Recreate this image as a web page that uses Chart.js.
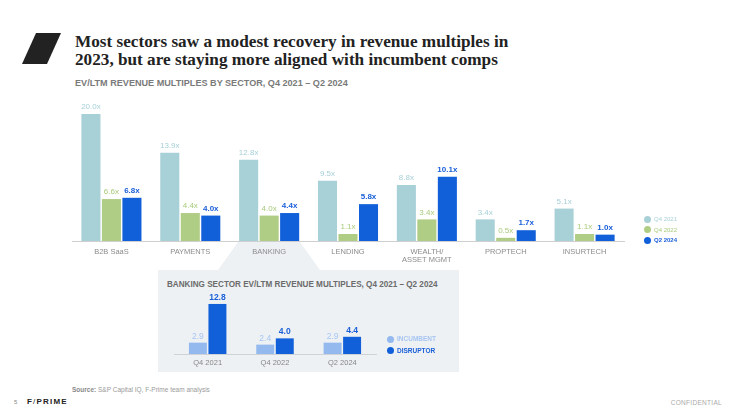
<!DOCTYPE html>
<html>
<head>
<meta charset="utf-8">
<script src="https://cdn.jsdelivr.net/npm/chart.js@4"></script>
<style>
  html, body { margin:0; padding:0; background:#fff; }
  body { width:740px; height:415px; position:relative; overflow:hidden; font-family:"Liberation Sans", Arial, sans-serif; }
  .abs { position:absolute; white-space:nowrap; }
  #title { left:75px; top:33px; font-family:"Liberation Serif", serif; font-weight:bold; font-size:17.2px; line-height:18px; color:#222; }
  #subtitle { left:75px; top:78px; font-size:9.1px; line-height:10px; font-weight:bold; color:#7a7a7a; }
  #insetTitle { left:167px; top:280px; font-size:8.15px; line-height:10px; font-weight:bold; color:#6b6b6b; }
  .leg { font-size:6px; line-height:8px; }
  .dot { position:absolute; width:7px; height:7px; border-radius:50%; }
  #mainWrap { position:absolute; left:0; top:95px; width:740px; height:175px; }
  #insetWrap { position:absolute; left:158px; top:288px; width:301px; height:84px; }
  #src { left:72px; top:385px; font-size:6.5px; line-height:10px; color:#9a9a9a; }
  #src b { color:#8a8a8a; }
  #pg { left:14px; top:398px; font-size:6px; line-height:8px; color:#888; }
  #logo { left:27px; top:397px; font-size:8px; line-height:10px; font-weight:bold; color:#222; letter-spacing:1.2px; }
  #conf { right:18px; top:398px; font-size:6.5px; line-height:10px; color:#aaa; letter-spacing:0.3px; }
</style>
</head>
<body>
<svg class="abs" style="left:0;top:0" width="740" height="415">
  <polygon points="36,33 61,33 47,64 22,64" fill="#222"/>
  <polygon points="238,242 300,242 320,270 218,270" fill="#eef1f4"/>
  <rect x="158" y="270" width="301" height="102" fill="#eef1f4"/>
</svg>
<div id="title" class="abs">Most sectors saw a modest recovery in revenue multiples in<br>2023, but are staying more aligned with incumbent comps</div>
<div id="subtitle" class="abs">EV/LTM REVENUE MULTIPLES BY SECTOR, Q4 2021 – Q2 2024</div>
<div id="mainWrap"><canvas id="main"></canvas></div>
<div id="insetTitle" class="abs">BANKING SECTOR EV/LTM REVENUE MULTIPLES, Q4 2021 – Q2 2024</div>
<div id="insetWrap"><canvas id="inset"></canvas></div>
<div id="src" class="abs"><b>Source:</b> S&amp;P Capital IQ, F-Prime team analysis</div>
<div id="pg" class="abs">5</div>
<div id="logo" class="abs">F<span style="font-weight:normal">/</span>PRIME</div>
<div id="conf" class="abs">CONFIDENTIAL</div>
<script>
// ---- data ----
const sectors = ['B2B SaaS', 'PAYMENTS', 'BANKING', 'LENDING', ['WEALTH/', 'ASSET MGMT'], 'PROPTECH', 'INSURTECH'];
const seriesNames = ['Q4 2021', 'Q4 2022', 'Q2 2024'];
const q4_2021 = [20.0, 13.9, 12.8, 9.5, 8.8, 3.4, 5.1];
const q4_2022 = [6.6, 4.4, 4.0, 1.1, 3.4, 0.5, 1.1];
const q2_2024 = [6.8, 4.0, 4.4, 5.8, 10.1, 1.7, 1.0];

const bankingPeriods = ['Q4 2021', 'Q4 2022', 'Q2 2024'];
const bankingNames = ['INCUMBENT', 'DISRUPTOR'];
const incumbent = [2.9, 2.4, 2.9];
const disruptor = [12.8, 4.0, 4.4];

// ---- styles ----
const C_TEAL = '#a8d0d7', C_GREEN = '#b0cd85', C_BLUE = '#1160d9', C_PERI = '#93b9ef';
const T_TEAL = '#a6d0d8', T_GREEN = '#a8cb7b', T_BLUE = '#1a5fd8', T_PERI = '#a7c5f2';
const SANS = '"Liberation Sans", Arial, sans-serif';

const valueLabels = {
  id: 'valueLabels',
  afterDatasetsDraw(chart, args, opts) {
    const ctx = chart.ctx;
    chart.data.datasets.forEach((ds, i) => {
      const meta = chart.getDatasetMeta(i);
      ctx.save();
      ctx.fillStyle = ds.labelColor;
      ctx.font = (ds.labelBold ? 'bold ' : '') + opts.size + 'px ' + SANS;
      ctx.textAlign = 'center';
      ctx.textBaseline = 'bottom';
      meta.data.forEach((el, j) => {
        const v = ds.data[j];
        ctx.fillText(v.toFixed(1) + (opts.suffix || ''), el.x, el.y - opts.gap);
      });
      ctx.restore();
    });
  }
};

new Chart(document.getElementById('main'), {
  type: 'bar',
  data: {
    labels: sectors,
    datasets: [
      { label: seriesNames[0], data: q4_2021, backgroundColor: C_TEAL, labelColor: T_TEAL, labelBold: false },
      { label: seriesNames[1], data: q4_2022, backgroundColor: C_GREEN, labelColor: T_GREEN, labelBold: false },
      { label: seriesNames[2], data: q2_2024, backgroundColor: C_BLUE, labelColor: T_BLUE, labelBold: true }
    ]
  },
  options: {
    responsive: true, maintainAspectRatio: false, animation: false, devicePixelRatio: 1,
    categoryPercentage: 0.78, barPercentage: 0.93,
    layout: { padding: { left: 72, right: 116, top: 10, bottom: 0 } },
    plugins: { legend: { display: false }, tooltip: { enabled: false },
      valueLabels: { size: 8, gap: 3, suffix: 'x' } },
    scales: {
      y: { display: false, min: 0, max: 21.4 },
      x: {
        grid: { display: true, drawOnChartArea: false, drawTicks: false },
        border: { display: true, color: '#cfcfcf', width: 1 },
        ticks: { color: '#8c8c8c', font: { family: SANS, size: 7.5, lineHeight: 1.1 }, padding: 7, maxRotation: 0, autoSkip: false },
        afterFit: s => { s.height = 29; }
      }
    }
  },
  plugins: [valueLabels]
});

new Chart(document.getElementById('inset'), {
  type: 'bar',
  data: {
    labels: bankingPeriods,
    datasets: [
      { label: bankingNames[0], data: incumbent, backgroundColor: C_PERI, labelColor: T_PERI, labelBold: false },
      { label: bankingNames[1], data: disruptor, backgroundColor: C_BLUE, labelColor: T_BLUE, labelBold: true }
    ]
  },
  options: {
    responsive: true, maintainAspectRatio: false, animation: false, devicePixelRatio: 1,
    categoryPercentage: 0.58, barPercentage: 0.92,
    layout: { padding: { left: 16, right: 83, top: 14, bottom: 0 } },
    plugins: { legend: { display: false }, tooltip: { enabled: false },
      valueLabels: { size: 8.5, gap: 2, suffix: '' } },
    scales: {
      y: { display: false, min: 0, max: 13.3 },
      x: {
        grid: { display: true, drawOnChartArea: false, drawTicks: false },
        border: { display: true, color: '#cfd3d8', width: 1 },
        ticks: { color: '#858585', font: { family: SANS, size: 7.5 }, padding: 4, maxRotation: 0 },
        afterFit: s => { s.height = 18; }
      }
    }
  },
  plugins: [valueLabels]
});

// ---- legends (HTML) ----
function legendItem(x, yc, color, textColor, text, bold, size) {
  const d = document.createElement('div');
  d.className = 'dot';
  d.style.left = (x - 3.5) + 'px'; d.style.top = (yc - 3.5) + 'px'; d.style.background = color;
  document.body.appendChild(d);
  const t = document.createElement('div');
  t.className = 'abs leg';
  t.style.left = (x + 7) + 'px'; t.style.top = (yc - 4) + 'px';
  t.style.color = textColor; t.style.fontWeight = bold ? 'bold' : 'normal';
  t.style.fontSize = size + 'px';
  t.textContent = text;
  document.body.appendChild(t);
}
legendItem(647, 219, C_TEAL, T_TEAL, seriesNames[0], false, 6);
legendItem(647, 229.5, C_GREEN, T_GREEN, seriesNames[1], false, 6);
legendItem(647, 240, C_BLUE, T_BLUE, seriesNames[2], true, 6);
legendItem(390, 339.3, C_PERI, T_PERI, bankingNames[0], true, 6.5);
legendItem(390, 350.7, C_BLUE, T_BLUE, bankingNames[1], true, 6.5);
</script>
</body>
</html>
